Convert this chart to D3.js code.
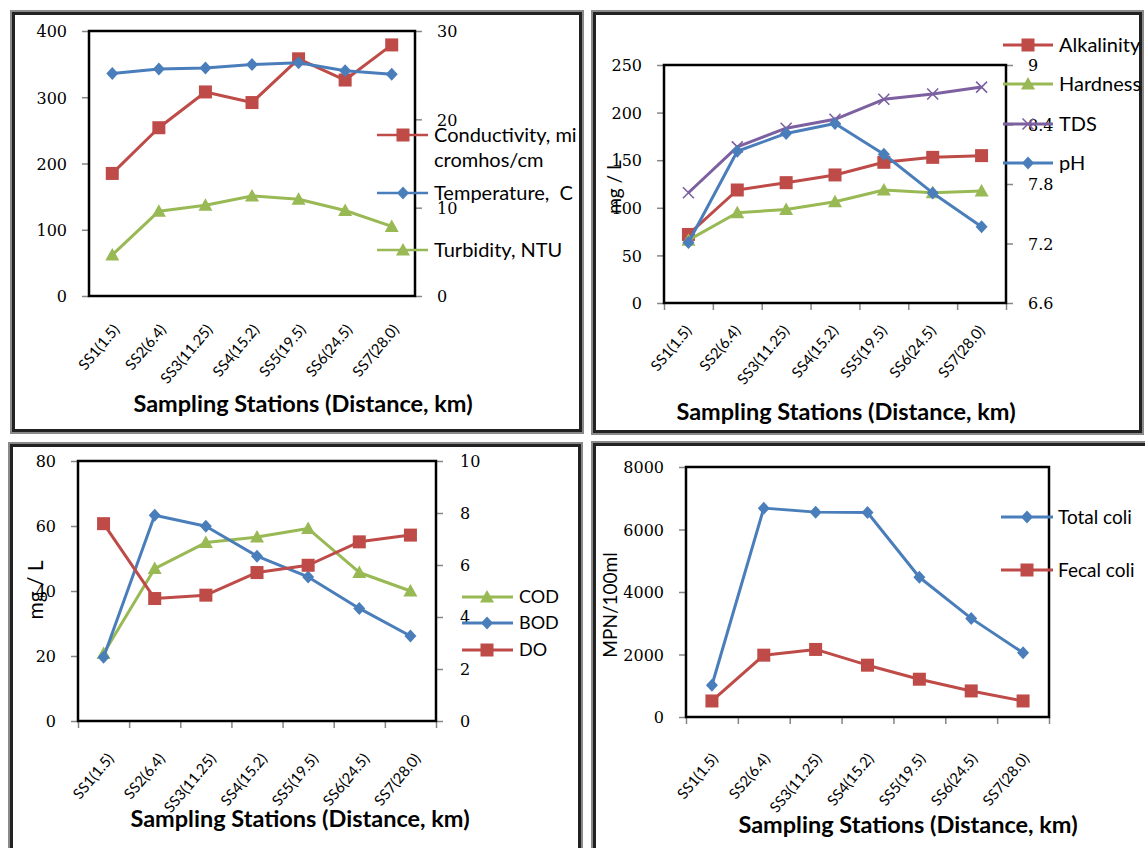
<!DOCTYPE html>
<html><head><meta charset="utf-8">
<script src="https://cdn.jsdelivr.net/npm/d3@7"></script>
<style>
html,body{margin:0;padding:0;background:#fff;}
svg{display:block;}
</style></head>
<body>
<svg id="chart" width="1145" height="848"></svg>
<script>
// ---------- DATA ----------
const stations = ["SS1(1.5)","SS2(6.4)","SS3(11.25)","SS4(15.2)","SS5(19.5)","SS6(24.5)","SS7(28.0)"];

// Panel 1
const conductivity = [185, 254, 308, 292, 358, 326, 379];
const temperature  = [25.2, 25.7, 25.8, 26.2, 26.4, 25.5, 25.1];
const turbidity    = [62, 128, 137, 151, 146, 129, 105];
const p1LeftTicks  = [0, 100, 200, 300, 400];
const p1RightTicks = [0, 10, 20, 30];

// Panel 2
const alkalinity = [72, 118.7, 126.4, 134.5, 147.8, 153, 154.8];
const hardness   = [66, 94.8, 98.3, 106.4, 118.7, 115.8, 117.6];
const tds        = [115.8, 164, 183.6, 193, 214, 219.5, 226.8];
const ph         = [7.21, 8.13, 8.31, 8.41, 8.10, 7.71, 7.37];
const p2LeftTicks  = [0, 50, 100, 150, 200, 250];
const p2RightTicks = [6.6, 7.2, 7.8, 8.4, 9.0];

// Panel 3
const cod = [20.8, 46.9, 54.9, 56.6, 59.2, 45.7, 40.0];
const bod = [2.45, 7.91, 7.49, 6.34, 5.54, 4.33, 3.27];
const dissolvedOxygen = [7.59, 4.71, 4.84, 5.71, 5.99, 6.89, 7.15];
const p3LeftTicks  = [0, 20, 40, 60, 80];
const p3RightTicks = [0, 2, 4, 6, 8, 10];

// Panel 4
const totalColi = [1017, 6684, 6556, 6544, 4471, 3156, 2053];
const fecalColi = [513, 1979, 2162, 1658, 1209, 834, 513];
const p4LeftTicks = [0, 2000, 4000, 6000, 8000];

const xTitle = "Sampling Stations (Distance, km)";

// ---------- STYLE ----------
const C = {blue:"#4a7ebb", red:"#be4b48", green:"#98b954", purple:"#7d60a0"};
const SANS = "Lato, 'Open Sans', sans-serif";
const SERIF = "'DejaVu Serif', serif";

const svg = d3.select("#chart");
svg.append("rect").attr("width",1145).attr("height",848).attr("fill","#fff");

function marker(g, type, x, y, color) {
  if (type === "square") {
    g.append("rect").attr("x", x-6.5).attr("y", y-6.5).attr("width",13).attr("height",13).attr("fill", color);
  } else if (type === "diamond") {
    g.append("path").attr("d", `M${x},${y-6.5}L${x+6},${y}L${x},${y+6.5}L${x-6},${y}Z`).attr("fill", color);
  } else if (type === "triangle") {
    g.append("path").attr("d", `M${x},${y-7}L${x+7},${y+5.5}L${x-7},${y+5.5}Z`).attr("fill", color);
  } else if (type === "x") {
    g.append("path").attr("d", `M${x-5.5},${y-5.5}L${x+5.5},${y+5.5}M${x-5.5},${y+5.5}L${x+5.5},${y-5.5}`)
      .attr("stroke", color).attr("stroke-width", 1.6).attr("fill","none");
  }
}

function frame(x1, y1, x2, y2) {
  const g = svg.append("g");
  g.append("rect").attr("x", x1+1).attr("y", y1+1).attr("width", x2-x1-2).attr("height", y2-y1-2)
    .attr("fill","none").attr("stroke","#8a8a8a").attr("stroke-width",2);
  g.append("rect").attr("x", x1+3.5).attr("y", y1+3.5).attr("width", x2-x1-7).attr("height", y2-y1-7)
    .attr("fill","none").attr("stroke","#222").attr("stroke-width",3);
}

function panel(cfg) {
  const [L, T, R, B] = cfg.plot;
  const g = svg.append("g");
  const x = d3.scaleBand().domain(stations).range([L, R]);
  const cx = d => x(d) + x.bandwidth()/2;
  const yL = d3.scaleLinear().domain(cfg.left.domain).range([B, T]);
  const yR = cfg.right ? d3.scaleLinear().domain(cfg.right.domain).range([B, T]) : null;

  // left axis
  const la = g.append("g").attr("transform", `translate(${L},0)`)
    .call(d3.axisLeft(yL).tickValues(cfg.left.ticks).tickSize(7).tickSizeOuter(0).tickPadding(15)
      .tickFormat(cfg.left.fmt || d3.format("d")));
  la.select(".domain").remove();
  la.selectAll("line").attr("stroke","#868686").attr("stroke-width",1.5);
  la.selectAll("text").attr("font-family", SERIF).attr("font-size", 16).attr("fill","#000").attr("dy","0.36em");

  if (yR) {
    const ra = g.append("g").attr("transform", `translate(${R},0)`)
      .call(d3.axisRight(yR).tickValues(cfg.right.ticks).tickSize(7).tickSizeOuter(0).tickPadding(cfg.right.pad || 15)
        .tickFormat(cfg.right.fmt || d3.format("d")));
    ra.select(".domain").remove();
    ra.selectAll("line").attr("stroke","#868686").attr("stroke-width",1.5);
    ra.selectAll("text").attr("font-family", SERIF).attr("font-size", 16).attr("fill","#000").attr("dy","0.36em");
  }

  if (cfg.xTicks) {
    const xi = d3.scaleLinear().domain([0, stations.length]).range([L, R]);
    const xa = g.append("g").attr("transform", `translate(0,${B})`)
      .call(d3.axisBottom(xi).tickValues(d3.range(stations.length+1)).tickSize(7).tickFormat(""));
    xa.select(".domain").remove();
    xa.selectAll("line").attr("stroke","#868686").attr("stroke-width",1.5);
  }

  // plot border
  g.append("rect").attr("x", L).attr("y", T).attr("width", R-L).attr("height", B-T)
    .attr("fill","none").attr("stroke","#000").attr("stroke-width",2.5);

  // series
  cfg.series.forEach(s => {
    const y = s.axis === "right" ? yR : yL;
    const line = d3.line().x((d,i) => cx(stations[i])).y(d => y(d));
    g.append("path").datum(s.values).attr("d", line).attr("fill","none")
      .attr("stroke", s.color).attr("stroke-width", 3).attr("stroke-linejoin","round");
    s.values.forEach((v,i) => marker(g, s.marker, cx(stations[i]), y(v), s.color));
  });

  // x labels
  const [ox, oy] = cfg.labelOff;
  stations.forEach(st => {
    g.append("text").attr("transform", `translate(${cx(st)+ox},${B+oy}) rotate(-50)`)
      .attr("text-anchor","end").attr("font-family", SANS).attr("font-size", 15).attr("fill","#000").text(st);
  });

  // x title
  g.append("text").attr("x", cfg.title[0]).attr("y", cfg.title[1]).attr("text-anchor","middle")
    .attr("font-family", SANS).attr("font-weight","bold").attr("font-size", 23.5).attr("fill","#000").text(xTitle);

  // y label
  if (cfg.yLabel) {
    const yl = cfg.yLabel;
    g.append("text").attr("transform", `translate(${yl.x},${yl.y}) rotate(-90)`).attr("text-anchor","middle")
      .attr("font-family", SANS).attr("font-size", yl.size).attr("fill","#000").text(yl.text);
  }

  // legend
  const lg = cfg.legend;
  lg.items.forEach((it, i) => {
    const yy = lg.ys[i];
    g.append("line").attr("x1", lg.x0).attr("x2", lg.x1).attr("y1", yy).attr("y2", yy)
      .attr("stroke", it.color).attr("stroke-width", lg.lw || 3);
    marker(g, it.marker, lg.mx, yy, it.color);
    const t = g.append("text").attr("x", lg.tx).attr("y", yy)
      .attr("font-family", SANS).attr("font-size", lg.size).attr("fill","#000").style("white-space","pre");
    const lines = it.label.split("\n");
    lines.forEach((ln, k) => {
      t.append("tspan").attr("x", lg.tx).attr("dy", k === 0 ? "0.36em" : "1.25em").text(ln);
    });
  });
}

// frames
frame(10, 10, 584, 434);
frame(591, 10, 1144, 435);
frame(8, 442, 583, 856);
frame(591, 441, 1152, 856);

// ---- Panel 1 ----
panel({
  plot: [89, 31, 415, 296],
  left: {domain: [0, 400], ticks: p1LeftTicks},
  right: {domain: [0, 30], ticks: p1RightTicks},
  series: [
    {values: conductivity, axis: "left", color: C.red, marker: "square"},
    {values: turbidity, axis: "left", color: C.green, marker: "triangle"},
    {values: temperature, axis: "right", color: C.blue, marker: "diamond"}
  ],
  xTicks: false,
  labelOff: [8, 34],
  title: [303, 412],
  legend: {x0: 377, x1: 428, mx: 403, tx: 434, size: 20, lw: 2.5, ys: [135, 193, 250],
    items: [
      {label: "Conductivity, mi\ncromhos/cm", color: C.red, marker: "square"},
      {label: "Temperature,  C", color: C.blue, marker: "diamond"},
      {label: "Turbidity, NTU", color: C.green, marker: "triangle"}
    ]}
});

// ---- Panel 2 ----
panel({
  plot: [664, 65, 1006, 303],
  left: {domain: [0, 250], ticks: p2LeftTicks},
  right: {domain: [6.6, 9.0], ticks: p2RightTicks, fmt: d => d === 9 ? "9" : d3.format(".1f")(d)},
  series: [
    {values: alkalinity, axis: "left", color: C.red, marker: "square"},
    {values: hardness, axis: "left", color: C.green, marker: "triangle"},
    {values: tds, axis: "left", color: C.purple, marker: "x"},
    {values: ph, axis: "right", color: C.blue, marker: "diamond"}
  ],
  xTicks: true,
  labelOff: [4, 28],
  title: [846, 420],
  yLabel: {text: "mg / L", x: 621, y: 187, size: 19},
  legend: {x0: 1003, x1: 1053, mx: 1028, tx: 1059, size: 20, lw: 3, ys: [45, 84, 124, 163],
    items: [
      {label: "Alkalinity", color: C.red, marker: "square"},
      {label: "Hardness", color: C.green, marker: "triangle"},
      {label: "TDS", color: C.purple, marker: "x"},
      {label: "pH", color: C.blue, marker: "diamond"}
    ]}
});

// ---- Panel 3 ----
panel({
  plot: [78, 461, 436, 721],
  left: {domain: [0, 80], ticks: p3LeftTicks},
  right: {domain: [0, 10], ticks: p3RightTicks, pad: 17},
  series: [
    {values: cod, axis: "left", color: C.green, marker: "triangle"},
    {values: bod, axis: "right", color: C.blue, marker: "diamond"},
    {values: dissolvedOxygen, axis: "right", color: C.red, marker: "square"}
  ],
  xTicks: true,
  labelOff: [11, 38],
  title: [300, 827],
  yLabel: {text: "mg / L", x: 43, y: 590, size: 21},
  legend: {x0: 462, x1: 513, mx: 487, tx: 519, size: 18, lw: 3, ys: [597, 623, 650],
    items: [
      {label: "COD", color: C.green, marker: "triangle"},
      {label: "BOD", color: C.blue, marker: "diamond"},
      {label: "DO", color: C.red, marker: "square"}
    ]}
});

// ---- Panel 4 ----
panel({
  plot: [686, 467, 1049, 717],
  left: {domain: [0, 8000], ticks: p4LeftTicks},
  right: null,
  series: [
    {values: totalColi, axis: "left", color: C.blue, marker: "diamond"},
    {values: fecalColi, axis: "left", color: C.red, marker: "square"}
  ],
  xTicks: true,
  labelOff: [7, 42],
  title: [908, 833],
  yLabel: {text: "MPN/100ml", x: 617, y: 605, size: 19},
  legend: {x0: 1001, x1: 1053, mx: 1027, tx: 1058, size: 19, lw: 3, ys: [517, 570],
    items: [
      {label: "Total coli", color: C.blue, marker: "diamond"},
      {label: "Fecal coli", color: C.red, marker: "square"}
    ]}
});
</script>
</body></html>
